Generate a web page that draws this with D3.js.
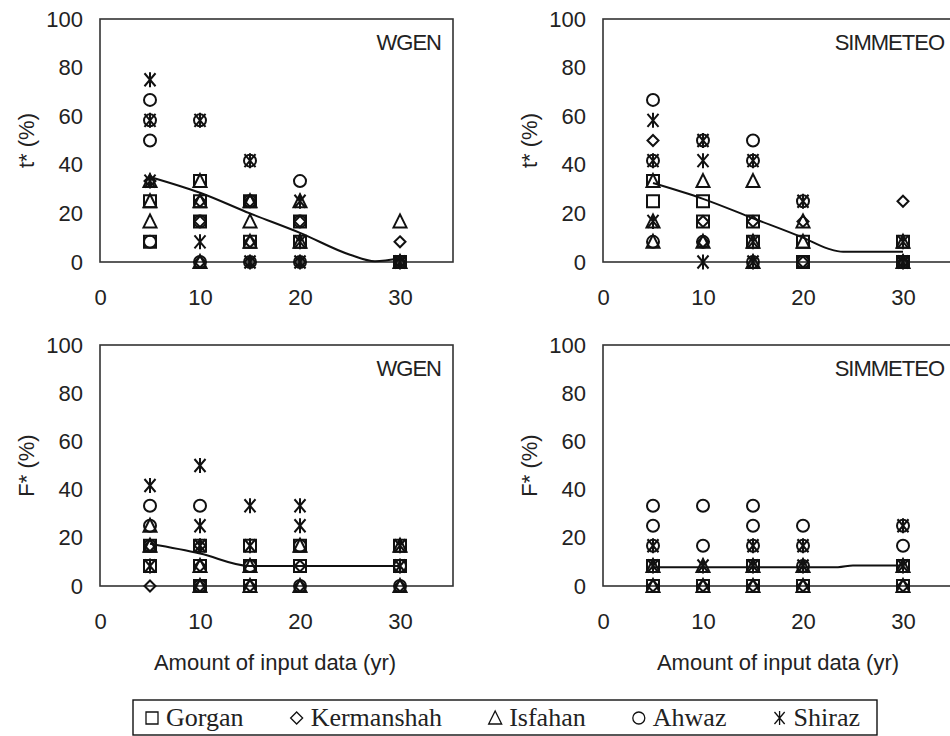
<!DOCTYPE html>
<html>
<head>
<meta charset="utf-8">
<script src="https://cdn.jsdelivr.net/npm/d3@7"></script>
<style>
  body { margin: 0; background: #fff; }
  text { font-family: "Liberation Sans", Arial, sans-serif; fill: #222; }
</style>
</head>
<body>
<div id="chart"></div>
<script>
const stations = ["Gorgan", "Kermanshah", "Isfahan", "Ahwaz", "Shiraz"];
const symbols = ["square", "diamond", "triangle", "circle", "star"];
const xTicks = [0, 10, 20, 30];
const yTicks = [0, 20, 40, 60, 80, 100];

// t* , WGEN  ([years, %])
const tWgenGorgan = [[5,25],[5,8.3],[10,33.3],[10,25],[10,16.7],[15,25],[15,8.3],[20,16.7],[20,8.3],[30,0]];
const tWgenKermanshah = [[5,33.3],[10,25],[10,16.7],[10,0],[15,25],[15,8.3],[15,0],[20,16.7],[20,0],[30,8.3],[30,0]];
const tWgenIsfahan = [[5,33.3],[5,25],[5,16.7],[10,33.3],[10,25],[10,0],[15,25],[15,16.7],[15,8.3],[20,25],[20,8.3],[30,16.7],[30,0]];
const tWgenAhwaz = [[5,66.7],[5,58.3],[5,50],[5,8.3],[10,58.3],[10,16.7],[10,0],[15,41.7],[15,25],[15,0],[20,33.3],[20,16.7],[20,0],[30,0]];
const tWgenShiraz = [[5,75],[5,58.3],[5,33.3],[10,58.3],[10,8.3],[15,41.7],[15,0],[20,25],[20,8.3],[20,0],[30,0]];
const tWgenTrend = [[5,35],[10,28.5],[15,20],[20,12],[25,3],[27.5,0.3],[30,1.5]];

// t* , SIMMETEO
const tSimGorgan = [[5,33.3],[5,25],[10,25],[10,16.7],[15,16.7],[15,8.3],[20,8.3],[20,0],[30,8.3],[30,0]];
const tSimKermanshah = [[5,50],[10,16.7],[10,8.3],[15,16.7],[20,16.7],[20,0],[30,25],[30,0]];
const tSimIsfahan = [[5,33.3],[5,16.7],[5,8.3],[10,33.3],[10,8.3],[15,33.3],[15,8.3],[15,0],[20,16.7],[20,8.3],[30,8.3],[30,0]];
const tSimAhwaz = [[5,66.7],[5,41.7],[5,8.3],[10,50],[10,8.3],[15,50],[15,41.7],[15,0],[20,25],[20,0],[30,0]];
const tSimShiraz = [[5,58.3],[5,41.7],[5,16.7],[10,50],[10,41.7],[10,0],[15,41.7],[15,8.3],[15,0],[20,25],[30,8.3],[30,0]];
const tSimTrend = [[5,32.5],[10,26],[15,18],[20,10],[22.5,5.5],[24,4.2],[30,4.2]];

// F* , WGEN
const fWgenGorgan = [[5,16.7],[5,8.3],[10,16.7],[10,8.3],[10,0],[15,16.7],[15,8.3],[15,0],[20,16.7],[20,8.3],[30,16.7],[30,8.3]];
const fWgenKermanshah = [[5,16.7],[5,0],[10,16.7],[10,8.3],[10,0],[15,0],[20,8.3],[20,0],[30,0]];
const fWgenIsfahan = [[5,25],[5,16.7],[10,8.3],[10,0],[15,8.3],[15,0],[20,16.7],[20,0],[30,16.7],[30,0]];
const fWgenAhwaz = [[5,33.3],[5,25],[5,16.7],[10,33.3],[10,0],[15,8.3],[20,16.7],[20,0],[30,8.3],[30,0]];
const fWgenShiraz = [[5,41.7],[5,8.3],[10,50],[10,25],[10,16.7],[15,33.3],[15,16.7],[20,33.3],[20,25],[30,16.7],[30,8.3]];
const fWgenTrend = [[5,17.5],[10,13.5],[15,8.3],[20,8.3],[30,8.3]];

// F* , SIMMETEO
const fSimGorgan = [[5,8.3],[5,0],[10,0],[15,8.3],[15,0],[20,0],[30,8.3],[30,0]];
const fSimKermanshah = [[5,0],[10,0],[15,0],[20,0],[30,0]];
const fSimIsfahan = [[5,8.3],[5,0],[10,8.3],[10,0],[15,8.3],[15,0],[20,8.3],[20,0],[30,8.3],[30,0]];
const fSimAhwaz = [[5,33.3],[5,25],[5,16.7],[10,33.3],[10,16.7],[15,33.3],[15,25],[15,16.7],[20,25],[20,16.7],[20,8.3],[30,25],[30,16.7]];
const fSimShiraz = [[5,16.7],[5,8.3],[10,8.3],[15,16.7],[15,8.3],[20,16.7],[20,8.3],[30,25],[30,8.3]];
const fSimTrend = [[5,7.8],[20,7.8],[23.5,7.8],[25,8.5],[30,8.5]];

const panels = [
  {model: "WGEN", yLabel: "t* (%)", left: 100, top: 19, bottom: 262, xTitle: false,
   series: [tWgenGorgan, tWgenKermanshah, tWgenIsfahan, tWgenAhwaz, tWgenShiraz], trend: tWgenTrend},
  {model: "SIMMETEO", yLabel: "t* (%)", left: 603, top: 19, bottom: 262, xTitle: false,
   series: [tSimGorgan, tSimKermanshah, tSimIsfahan, tSimAhwaz, tSimShiraz], trend: tSimTrend},
  {model: "WGEN", yLabel: "F* (%)", left: 100, top: 345, bottom: 586, xTitle: true,
   series: [fWgenGorgan, fWgenKermanshah, fWgenIsfahan, fWgenAhwaz, fWgenShiraz], trend: fWgenTrend},
  {model: "SIMMETEO", yLabel: "F* (%)", left: 603, top: 345, bottom: 586, xTitle: true,
   series: [fSimGorgan, fSimKermanshah, fSimIsfahan, fSimAhwaz, fSimShiraz], trend: fSimTrend},
];

const width = 950, height = 736;
const plotW = 353;
const fontSize = 22;

const svg = d3.select("#chart").append("svg")
  .attr("width", width)
  .attr("height", height);

function markerPath(type, s) {
  // s = half size
  if (type === "square") return `M${-s},${-s}h${2*s}v${2*s}h${-2*s}Z`;
  if (type === "diamond") return `M0,${-s}L${s},0L0,${s}L${-s},0Z`;
  if (type === "triangle") return `M0,${-s-1}L${s+0.5},${s}L${-s-0.5},${s}Z`;
  if (type === "circle") return `M${s},0A${s},${s} 0 1,1 ${-s},0A${s},${s} 0 1,1 ${s},0Z`;
  // star: X with a vertical bar
  const a = s * 0.85;
  return `M${-a},${-s}L${a},${s}M${a},${-s}L${-a},${s}M0,${-s-1}V${s+1}`;
}
const markerSize = {square: 6, diamond: 5.5, triangle: 6, circle: 6, star: 6.5};

panels.forEach(p => {
  const x = d3.scaleLinear().domain([0, 35.3]).range([p.left, p.left + plotW]);
  const y = d3.scaleLinear().domain([0, 100]).range([p.bottom, p.top]);

  const g = svg.append("g");

  g.append("rect")
    .attr("x", p.left).attr("y", p.top)
    .attr("width", plotW).attr("height", p.bottom - p.top)
    .attr("fill", "none").attr("stroke", "#333").attr("stroke-width", 1.6);

  const yAxis = g.append("g")
    .attr("transform", `translate(${p.left},0)`)
    .call(d3.axisLeft(y).tickValues(yTicks).tickSize(0).tickPadding(17));
  yAxis.select(".domain").remove();
  yAxis.selectAll("text").attr("font-size", fontSize).attr("font-family", null);

  const xAxis = g.append("g")
    .attr("transform", `translate(0,${p.bottom})`)
    .call(d3.axisBottom(x).tickValues(xTicks).tickSize(0).tickPadding(27));
  xAxis.select(".domain").remove();
  xAxis.selectAll("text").attr("font-size", fontSize).attr("font-family", null);

  g.append("text")
    .attr("transform", `translate(${p.left - 74},${(p.top + p.bottom) / 2}) rotate(-90)`)
    .attr("text-anchor", "middle")
    .attr("dy", "0.35em")
    .attr("font-size", fontSize)
    .text(p.yLabel);

  g.append("text")
    .attr("x", p.left + plotW - 12)
    .attr("y", p.top + 31)
    .attr("text-anchor", "end")
    .attr("font-size", fontSize)
    .attr("letter-spacing", -1)
    .text(p.model);

  if (p.xTitle) {
    g.append("text")
      .attr("x", p.left + 175)
      .attr("y", p.bottom + 84)
      .attr("text-anchor", "middle")
      .attr("font-size", fontSize)
      .text("Amount of input data (yr)");
  }

  p.series.forEach((pts, i) => {
    const type = symbols[i];
    g.append("g").selectAll("path")
      .data(pts)
      .join("path")
      .attr("transform", d => `translate(${x(d[0])},${y(d[1])})`)
      .attr("d", markerPath(type, markerSize[type]))
      .attr("fill", "none")
      .attr("stroke", "#111")
      .attr("stroke-width", 2);
  });

  const line = d3.line()
    .x(d => x(d[0]))
    .y(d => y(d[1]))
    .curve(d3.curveMonotoneX);
  g.append("path")
    .datum(p.trend)
    .attr("d", line)
    .attr("fill", "none")
    .attr("stroke", "#111")
    .attr("stroke-width", 2);
});

// legend: spread items to fill the framed box
const legendLeft = 133, legendRight = 877, legendTop = 700, legendH = 35;
const legend = svg.append("g");
legend.append("rect")
  .attr("x", legendLeft).attr("y", legendTop)
  .attr("width", legendRight - legendLeft).attr("height", legendH)
  .attr("fill", "none").attr("stroke", "#111").attr("stroke-width", 1.4);

const items = stations.map((name, i) => {
  const it = legend.append("g");
  it.append("path")
    .attr("transform", `translate(6,-8)`)
    .attr("d", markerPath(symbols[i], 6))
    .attr("fill", "none")
    .attr("stroke", "#111")
    .attr("stroke-width", 1.3);
  const t = it.append("text")
    .attr("x", 20)
    .attr("font-size", 26)
    .style("font-family", "'Liberation Serif', 'Times New Roman', serif")
    .text(name);
  return {g: it, w: 20 + t.node().getComputedTextLength()};
});
const padL = 13, padR = 17;
const totalW = d3.sum(items, d => d.w);
const gap = (legendRight - legendLeft - padL - padR - totalW) / (items.length - 1);
let cursor = legendLeft + padL;
items.forEach(it => {
  it.g.attr("transform", `translate(${cursor},${legendTop + 26})`);
  cursor += it.w + gap;
});
</script>
</body>
</html>
